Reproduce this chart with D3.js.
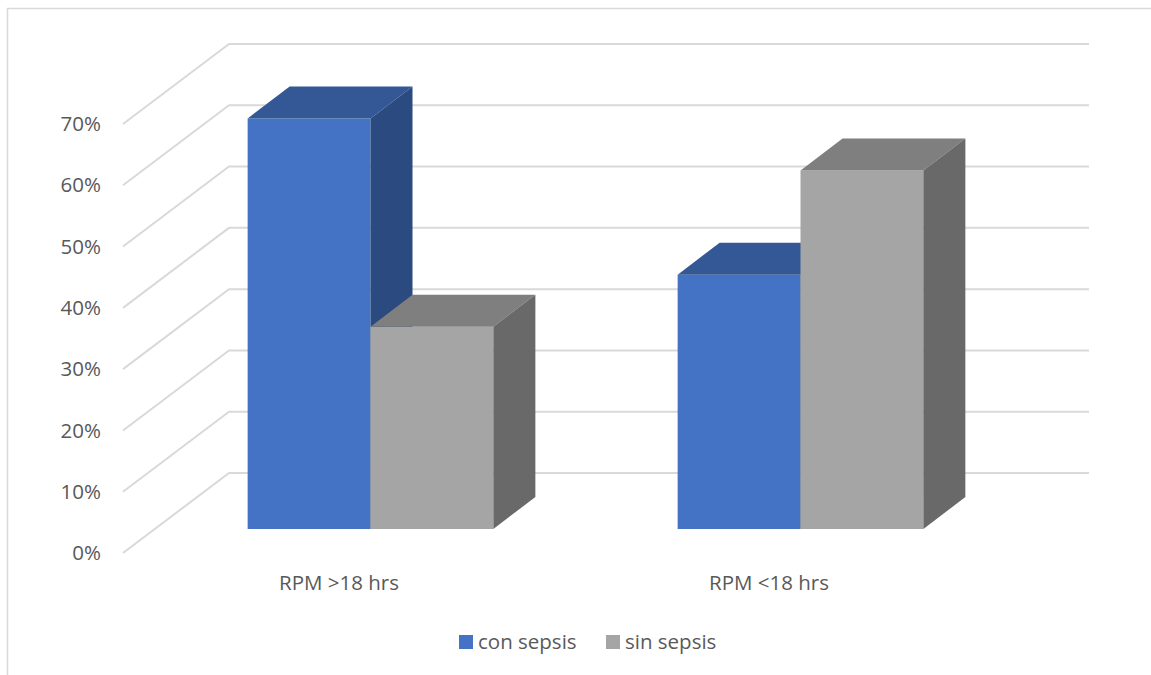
<!DOCTYPE html>
<html>
<head>
<meta charset="utf-8">
<script src="https://cdn.jsdelivr.net/npm/d3@7"></script>
<style>
  body { margin: 0; background: #fff; }
  svg { display: block; font-family: "Open Sans", sans-serif; }
</style>
</head>
<body>
<div id="chart"></div>
<script>
var categories = ["RPM >18 hrs", "RPM <18 hrs"];
var seriesNames = ["con sepsis", "sin sepsis"];
var conSepsis = [0.67, 0.415];
var sinSepsis = [0.33, 0.585];
var yTicks = [0, 0.1, 0.2, 0.3, 0.4, 0.5, 0.6, 0.7];

var series = [
    {name: seriesNames[0], values: conSepsis, front: "#4472c4", top: "#335895", side: "#2b4a80"},
    {name: seriesNames[1], values: sinSepsis, front: "#a5a5a5", top: "#7f7f7f", side: "#696969"}
];

var width = 1151, height = 675;

var svg = d3.select("#chart").append("svg")
    .attr("width", width)
    .attr("height", height);

// outer chart border (only left and top show in the frame)
svg.append("rect")
    .attr("x", 7.5).attr("y", 8.5)
    .attr("width", width + 20).attr("height", height + 20)
    .attr("fill", "none")
    .attr("stroke", "#d9d9d9")
    .attr("stroke-width", 1.5);

// 3d projection: depth z in [0,1] shifts right and up
var depthX = 105, depthY = 80;

var x = d3.scaleBand()
    .domain(categories)
    .range([124, 984]);

var groupWidth = x.bandwidth() * 2 / 3.5;
var x1 = d3.scaleBand()
    .domain(seriesNames)
    .range([0, groupWidth]);

var y = d3.scaleLinear()
    .domain([0, 0.7])
    .range([553, 124]);

function pt(px, v, z) {
    return [px + z * depthX, y(v) - z * depthY];
}

// gridlines: left wall diagonals + back wall horizontals
var grid = svg.append("g").attr("class", "grid")
    .attr("stroke", "#d9d9d9")
    .attr("stroke-width", 2)
    .attr("fill", "none");

grid.selectAll("path")
    .data(yTicks)
    .enter().append("path")
    .attr("d", function (d) {
        var a = pt(x.range()[0] - 1, d, 0),
            b = pt(x.range()[0], d, 1),
            c = pt(x.range()[1], d, 1);
        return "M" + a + "L" + b + "L" + c;
    });

// y axis labels
svg.append("g")
    .selectAll("text")
    .data(yTicks)
    .enter().append("text")
    .attr("x", 101)
    .attr("y", function (d) { return y(d); })
    .attr("dy", "0.35em")
    .attr("text-anchor", "end")
    .attr("fill", "#595959")
    .style("font-size", "20.5px")
    .text(d3.format(".0%"));

// bars
var z0 = 0.3, z1 = 0.7;
var bars = [];
categories.forEach(function (c, i) {
    series.forEach(function (s) {
        bars.push({cat: c, s: s, v: s.values[i]});
    });
});

var barG = svg.append("g").attr("class", "bars")
    .selectAll("g")
    .data(bars)
    .enter().append("g");

function bx0(d) { return x(d.cat) + (x.bandwidth() - groupWidth) / 2 + x1(d.s.name); }
function bx1(d) { return bx0(d) + x1.bandwidth(); }

function poly(points) {
    return "M" + points.join("L") + "Z";
}

barG.append("path")
    .attr("fill", function (d) { return d.s.front; })
    .attr("d", function (d) {
        return poly([pt(bx0(d), 0, z0), pt(bx1(d), 0, z0), pt(bx1(d), d.v, z0), pt(bx0(d), d.v, z0)]);
    });

barG.append("path")
    .attr("fill", function (d) { return d.s.top; })
    .attr("d", function (d) {
        return poly([pt(bx0(d), d.v, z0), pt(bx1(d), d.v, z0), pt(bx1(d), d.v, z1), pt(bx0(d), d.v, z1)]);
    });

barG.append("path")
    .attr("fill", function (d) { return d.s.side; })
    .attr("d", function (d) {
        return poly([pt(bx1(d), 0, z0), pt(bx1(d), 0, z1), pt(bx1(d), d.v, z1), pt(bx1(d), d.v, z0)]);
    });

// category labels
svg.append("g")
    .selectAll("text")
    .data(categories)
    .enter().append("text")
    .attr("x", function (d) { return x(d) + x.bandwidth() / 2; })
    .attr("y", 583)
    .attr("dy", "0.35em")
    .attr("text-anchor", "middle")
    .attr("fill", "#595959")
    .style("font-size", "20.5px")
    .text(function (d) { return d; });

// legend
var legendX = [459, 606];
var legend = svg.append("g")
    .selectAll("g")
    .data(series)
    .enter().append("g")
    .attr("transform", function (d, i) { return "translate(" + legendX[i] + ",635)"; });

legend.append("rect")
    .attr("width", 14)
    .attr("height", 14)
    .attr("fill", function (d) { return d.front; });

legend.append("text")
    .attr("x", 19)
    .attr("y", 7)
    .attr("dy", "0.35em")
    .attr("fill", "#595959")
    .style("font-size", "20.5px")
    .text(function (d) { return d.name; });
</script>
</body>
</html>
